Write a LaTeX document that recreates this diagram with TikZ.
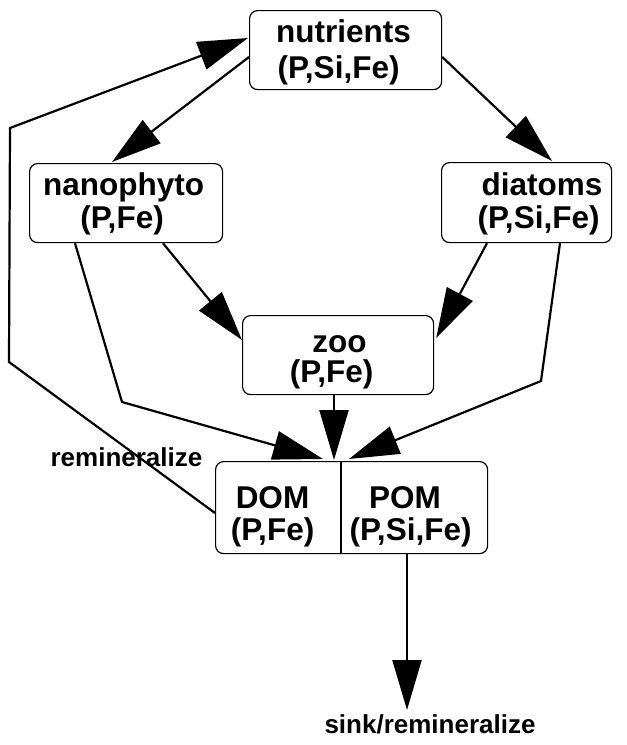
\documentclass[tikz,border=0pt]{standalone}
\usepackage{fontspec}
\setmainfont{Liberation Sans}
\usetikzlibrary{arrows.meta,calc}
\begin{document}
\begin{tikzpicture}[x=1pt,y=-1pt,
 box/.style={draw,line width=1.2pt,rounded corners=8pt,inner sep=0pt,anchor=north west},
 big/.style={font=\fontsize{31.5}{34}\selectfont\bfseries,inner sep=0pt,anchor=base},
 small/.style={font=\fontsize{26}{28}\selectfont\bfseries,inner sep=0pt,anchor=base},
 conn/.style={line width=2.2pt,line join=miter},
 arr/.style={conn,-{Triangle[length=50pt,width=29pt]}}]
\useasboundingbox (0,0) rectangle (627,745);
% boxes
\node[box,minimum width=192pt,minimum height=79pt] (nut) at (249,10) {};
\node[box,minimum width=193pt,minimum height=79pt] (nano) at (29,163) {};
\node[box,minimum width=170pt,minimum height=80pt] (diat) at (441,162) {};
\node[box,minimum width=191pt,minimum height=79pt] (zoo) at (242,315) {};
\node[box,minimum width=272pt,minimum height=92pt] (dp) at (215,461) {};
\draw[line width=1.2pt] ($(dp.north west)+(126,0)$) -- ($(dp.south west)+(126,0)$);
% bend points
\coordinate (c1) at (9,362);
\coordinate (c2) at (10,128);
\coordinate (b1) at (122,402);
\coordinate (b2) at (541,381);
\coordinate (sinkTip) at (407,710);
% connectors
\draw[arr] ($(nut.north west)+(0,47)$) -- ($(nano.north west)+(83,-1)$);
\draw[arr] ($(nut.north east)+(0,47)$) -- ($(diat.north west)+(111,-1)$);
\draw[arr] ($(dp.north west)+(0,52)$) -- (c1) -- (c2) -- ($(nut.north west)+(-1,28)$);
\draw[arr] ($(nano.south west)+(134,0)$) -- ($(zoo.north west)+(0,25)$);
\draw[arr] ($(diat.south west)+(46,0)$) -- ($(zoo.north east)+(2,23)$);
\draw[arr] ($(nano.south west)+(46,0)$) -- (b1) -- ($(dp.north west)+(108,-2)$);
\draw[arr] ($(diat.south west)+(119,0)$) -- (b2) -- ($(dp.north west)+(134,-2)$);
\draw[arr] ($(zoo.south west)+(92,0)$) -- ($(dp.north west)+(119,-1)$);
\draw[arr] ($(dp.south west)+(192,0)$) -- (sinkTip);
% texts
\node[big] (nutA) at (343.5,42.5) {nutrients};
\node[big] (nutB) at (338.5,78) {(P,Si,Fe)};
\node[big] (nanoA) at (123.5,195) {nanophyto};
\node[big] (nanoB) at (122,228) {(P,Fe)};
\node[big] (diatA) at (542,195) {diatoms};
\node[big] (diatB) at (538.5,228) {(P,Si,Fe)};
\node[big] (zooA) at (339.5,352) {zoo};
\node[big] (zooB) at (331.5,382) {(P,Fe)};
\node[big] (domA) at (272.5,508) {DOM};
\node[big] (domB) at (272.5,540) {(P,Fe)};
\node[big] (pomA) at (405,508) {POM};
\node[big] (pomB) at (410.5,540) {(P,Si,Fe)};
\node[small] (rem) at (126.5,466) {remineralize};
\node[small] (sink) at (430,733) {sink/remineralize};
\end{tikzpicture}
\end{document}
